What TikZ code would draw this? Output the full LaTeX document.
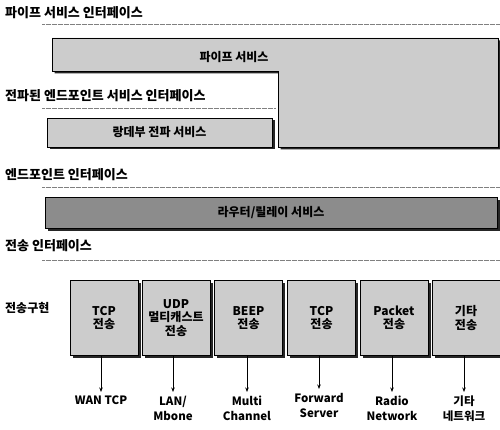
\documentclass[tikz,border=0pt]{standalone}
\usepackage{fontspec}
\setmainfont{Noto Sans CJK KR}
\usetikzlibrary{arrows.meta,shadows}
\begin{document}
\begin{tikzpicture}[x=1pt,y=-1pt,
  every node/.style={font=\bfseries, inner sep=0pt},
  head/.style={anchor=west, font=\bfseries\fontsize{13}{14}\selectfont},
  dotline/.style={gray, line width=0.6pt, dash pattern=on 0.6pt off 0.6pt},
  boxfill/.style={fill=black!20, draw=black, line width=0.6pt},
  shade/.style={drop shadow={shadow xshift=2.5pt, shadow yshift=-2.5pt, fill=black!85, opacity=1}},
  boxtext/.style={font=\bfseries\fontsize{12}{13}\selectfont},
  tbox/.style={boxfill, shade, minimum width=68pt, minimum height=75pt, align=center, font=\bfseries\fontsize{12}{13.5}\selectfont},
  lbl/.style={anchor=north, align=center, font=\bfseries\fontsize{11.5}{15}\selectfont},
  arr/.style={-{Stealth[length=4.5pt,width=3.5pt]}, line width=0.7pt, shorten >=4pt}
]
\path[use as bounding box, fill=white] (0,0) rectangle (500,430);

% headings
\node[head] (h1) at (5,13) {파이프 서비스 인터페이스};
\draw[dotline] (42,24) -- (500,24);
\node[head] (h2) at (5,96) {전파된 엔드포인트 서비스 인터페이스};
\draw[dotline] (42,108) -- (275,108);
\node[head] (h3) at (5,175) {엔드포인트 인터페이스};
\draw[dotline] (42,187) -- (500,187);
\node[head] (h4) at (5,246) {전송 인터페이스};
\draw[dotline] (42,260) -- (500,260);

% pipe service L-shape
\fill[black!85] (54.5,40.5) -- (500.5,40.5) -- (500.5,149.5) -- (280.5,149.5) -- (280.5,73.5) -- (54.5,73.5) -- cycle;
\path[boxfill] (52,38) -- (498,38) -- (498,147) -- (278,147) -- (278,71) -- (52,71) -- cycle;
\node[boxtext] (ps) at (234,57) {파이프 서비스};

% rendezvous propagate service
\node[boxfill, shade, minimum width=225pt, minimum height=29pt, boxtext] (rv) at (159.5,132.5) {랑데부 전파 서비스};

% router / relay service
\node[fill=black!45, draw=black, line width=0.6pt, shade, minimum width=452pt, minimum height=31pt, boxtext] (rr) at (271,213) {라우터/릴레이 서비스};

% transport implementations
\node[anchor=west, font=\bfseries\fontsize{12}{13}\selectfont] (ti) at (5,308) {전송구현};
\node[tbox] (t1) at (104,318) {TCP\\전송};
\node[tbox] (t2) at (176,318) {UDP\\멀티캐스트\\전송};
\node[tbox] (t3) at (248.5,318) {BEEP\\전송};
\node[tbox] (t4) at (321.5,318) {TCP\\전송};
\node[tbox] (t5) at (394,318) {Packet\\전송};
\node[tbox] (t6) at (466,318) {기타\\전송};

\node[lbl] (l1) at (101,396) {WAN TCP};
\node[lbl] (l2) at (173,396) {LAN/\\Mbone};
\node[lbl] (l3) at (247,396) {Multi\\Channel};
\node[lbl] (l4) at (319,393) {Forward\\Server};
\node[lbl] (l5) at (392,396) {Radio\\Network};
\node[lbl] (l6) at (464,396) {기타\\네트워크};

\foreach \i in {1,...,6}
  \draw[arr] (t\i.south -| l\i.north) -- (l\i.north);
\end{tikzpicture}
\end{document}
